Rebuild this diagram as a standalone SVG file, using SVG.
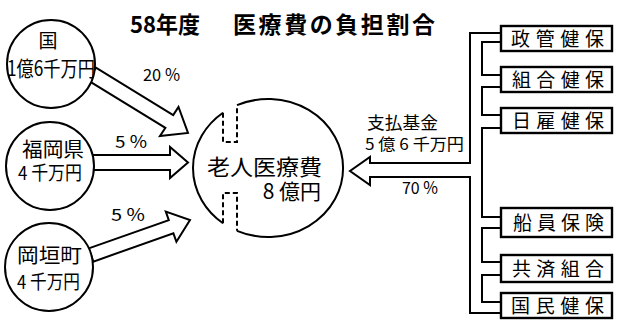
<svg xmlns="http://www.w3.org/2000/svg" width="621" height="331" viewBox="0 0 621 331">
<style>
.ln{fill:none;stroke:#000;stroke-width:2;stroke-linejoin:miter}
.arw{fill:#fff;stroke:#000;stroke-width:2;stroke-linejoin:miter}
.dash{fill:none;stroke:#000;stroke-width:2;stroke-dasharray:5 3}
.nd{fill:#fff;stroke:#000;stroke-width:2}
.bx{fill:#fff;stroke:#000;stroke-width:2.4}
.t{font-family:"Noto Sans CJK JP","Noto Sans CJK SC",sans-serif;fill:#000}
.title{font-family:"Noto Sans CJK JP","Noto Sans CJK SC",sans-serif;font-weight:bold;font-size:23px;fill:#000}
</style>
<rect width="621" height="331" fill="#fff"/>
<g id="title">
<text class="title" y="33"><tspan x="130" textLength="70" lengthAdjust="spacingAndGlyphs">58年度</tspan><tspan x="233" textLength="202">医療費の負担割合</tspan></text>
</g>
<g id="connectors">
<polygon class="arw" points="88,80.4 95.9,67.6 173.2,115.1 178.5,107 188,133 160,136 165.4,127.9"/>
<polygon class="arw" points="85,155 170,155 170,147 188,162.5 170,178 170,170 85,170"/>
<polygon class="arw" points="88.7,248.4 168.8,220.1 165.8,211.6 190,220 176.4,241.8 173.4,233.3 93.3,261.6"/>
<path class="ln" d="M501,33 H470 V163 H370 V157 L350,171 L370,185 V177 H470 V313 H501"/>
<path class="ln" d="M501,42 H482 V75 H501"/>
<path class="ln" d="M501,87 H482 V115 H501"/>
<path class="ln" d="M501,128 H482 V217 H501"/>
<path class="ln" d="M501,228 H482 V262 H501"/>
<path class="ln" d="M501,275 H482 V302 H501"/>
<text class="t" x="143" y="81" font-size="17" textLength="37" lengthAdjust="spacingAndGlyphs">20 %</text>
<text class="t" x="115" y="148" font-size="17" textLength="32" lengthAdjust="spacingAndGlyphs">5 %</text>
<text class="t" x="111" y="221" font-size="17" textLength="34" lengthAdjust="spacingAndGlyphs">5 %</text>
<text class="t" x="402" y="194" font-size="17" textLength="36" lengthAdjust="spacingAndGlyphs">70 %</text>
<text class="t" x="367" y="128.5" font-size="17" textLength="71" lengthAdjust="spacingAndGlyphs">支払基金</text>
<text class="t" x="365" y="149.5" font-size="16" textLength="99" lengthAdjust="spacingAndGlyphs">5 億 6 千万円</text>
</g>
<g id="node-kuni">
<circle class="nd" cx="51" cy="64" r="44"/>
<text class="t" x="48" y="48" font-size="19" text-anchor="middle">国</text>
<text class="t" x="7" y="76" font-size="21" textLength="88" lengthAdjust="spacingAndGlyphs">1億6千万円</text>
</g>
<g id="node-fukuoka">
<circle class="nd" cx="50" cy="166" r="44"/>
<text class="t" x="22" y="156.5" font-size="20" textLength="62" lengthAdjust="spacingAndGlyphs">福岡県</text>
<text class="t" x="18" y="180" font-size="19" textLength="64" lengthAdjust="spacingAndGlyphs">4 千万円</text>
</g>
<g id="node-okagaki">
<circle class="nd" cx="49" cy="267" r="44"/>
<text class="t" x="17" y="262.5" font-size="20" textLength="65" lengthAdjust="spacingAndGlyphs">岡垣町</text>
<text class="t" x="17" y="289" font-size="19" textLength="63" lengthAdjust="spacingAndGlyphs">4 千万円</text>
</g>
<g id="node-rojin">
<path class="ln" d="M223,112.8 A75,69 0 0 0 223,223.2"/>
<path class="ln" d="M237,105.2 A75,69 0 1 1 237,230.8"/>
<path class="dash" d="M223,112.8 V142 H237 V105.2"/>
<path class="dash" d="M223,223.2 V193 H237 V230.8"/>
<text class="t" x="207" y="174.5" font-size="22" textLength="115" lengthAdjust="spacingAndGlyphs">老人医療費</text>
<text class="t" x="321" y="199" font-size="21" text-anchor="end">8 億円</text>
</g>
<g id="node-seikan">
<rect class="bx" x="501" y="26" width="111" height="25"/>
<text class="t" x="511" y="45.5" font-size="19" textLength="93">政管健保</text>
</g>
<g id="node-kumiai">
<rect class="bx" x="501" y="67" width="111" height="25"/>
<text class="t" x="512" y="86.5" font-size="19" textLength="92">組合健保</text>
</g>
<g id="node-hiyatoi">
<rect class="bx" x="501" y="108" width="111" height="25"/>
<text class="t" x="512" y="127.5" font-size="19" textLength="92">日雇健保</text>
</g>
<g id="node-senin">
<rect class="bx" x="501" y="208" width="111" height="29"/>
<text class="t" x="513" y="229.5" font-size="19" textLength="91">船員保険</text>
</g>
<g id="node-kyosai">
<rect class="bx" x="501" y="255" width="111" height="27"/>
<text class="t" x="512" y="275.5" font-size="19" textLength="92">共済組合</text>
</g>
<g id="node-kokumin">
<rect class="bx" x="501" y="293" width="111" height="25"/>
<text class="t" x="511" y="312.5" font-size="19" textLength="93">国民健保</text>
</g>
</svg>
